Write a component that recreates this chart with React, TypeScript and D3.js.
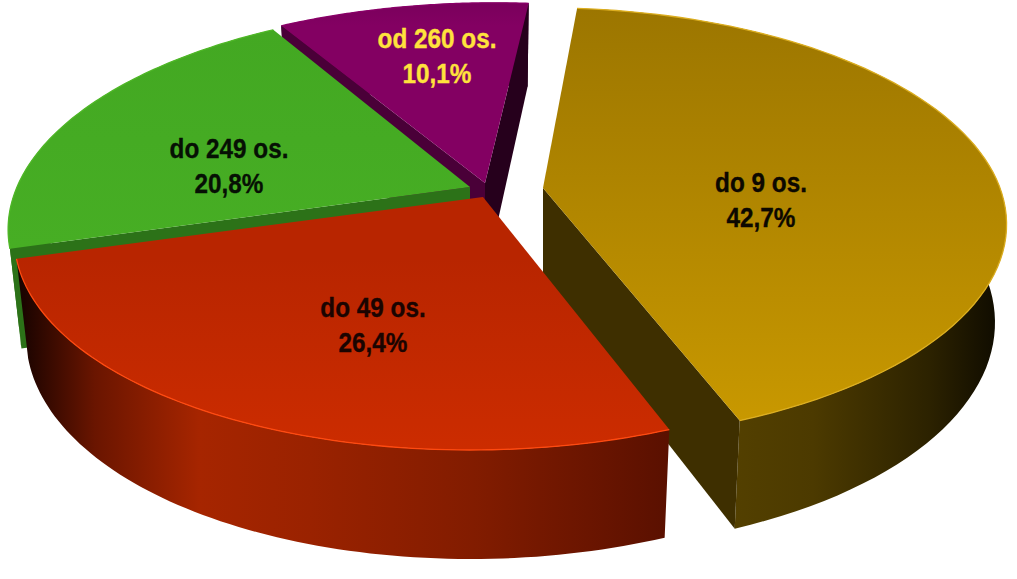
import * as d3 from 'd3';

const categories = ['do 9 os.', 'do 49 os.', 'do 249 os.', 'od 260 os.'];
const values = [42.7, 26.4, 20.8, 10.1];
const percentLabels = ['42,7%', '26,4%', '20,8%', '10,1%'];

const width = 1017;
const height = 579;

// where the tip of each exploded slice sits
const apexX = [543, 483, 470, 485];
const apexY = [188, 197, 187, 183];
// each slice sits at its own spot under the perspective, so it gets its own width and lean
const sliceRadiusX = [457, 460, 453, 465];
const sliceShear = [0, -0.05, -0.06, -0.05];
const labelX = [761, 373, 229, 437];
const labelY = [192, 317, 158, 48];
const labelColor = ['#0c0800', '#1a0400', '#061004', '#ffe23c'];

const topColors = [
  ['#9c7600', '#c89800'],
  ['#b82500', '#cc2c00'],
  ['#43a822', '#47ae24'],
  ['#7a005c', '#830062'],
];
const cutColors = ['#3e2f00', '#5a1000', '#2c7218', '#4a0038'];
const endCutColors = ['#3e2f00', '#5a1000', '#2c7218', '#26001c'];
const rimColors = ['#dcae20', '#ff4a10', '#50b828', '#8a0068'];
const outerStops: [number, string][][] = [
  [[0, '#614b00'], [0.55, '#4c3a00'], [0.82, '#2c2200'], [1, '#0c0900']],
  [[0, '#140200'], [0.12, '#6a1500'], [0.28, '#a62500'], [0.45, '#9a2200'], [0.7, '#821c00'], [1, '#5a1000']],
  [[0, '#2c7218'], [1, '#2c7218']],
  [[0, '#26001c'], [1, '#26001c']],
];

// perspective of the disc
const radiusY = 210.5;
const persp = 0.168;
const baseDepth = 96;
const depthSlope = 13;
const bottomShrink = 0.975;

const pie = d3
  .pie<number>()
  .sort(null)
  .startAngle((5 * Math.PI) / 180)
  .endAngle((365 * Math.PI) / 180);

const arcs = pie(values);

type Pt = [number, number];

function project(i: number, angle: number, r: number, bottom: boolean): Pt {
  const th = angle - Math.PI / 2;
  const u = Math.cos(th) * r;
  const v = Math.sin(th) * r;
  const s = 1 / (1 - persp * v);
  const y = radiusY * v * s;
  const x = sliceRadiusX[i] * u * s + sliceShear[i] * y;
  if (!bottom) return [apexX[i] + x, apexY[i] + y];
  return [apexX[i] + x * bottomShrink, apexY[i] + y + baseDepth + depthSlope * v];
}

const line = d3.line<Pt>();

function arcPoints(i: number, bottom: boolean): Pt[] {
  const a = arcs[i];
  const scale = d3.scaleLinear().domain([0, 80]).range([a.startAngle, a.endAngle]);
  return d3.range(81).map(k => project(i, scale(k), 1, bottom));
}

function topPath(i: number) {
  return line([project(i, 0, 0, false), ...arcPoints(i, false)]) + 'Z';
}

function outerPath(i: number) {
  return line([...arcPoints(i, false), ...arcPoints(i, true).reverse()]) + 'Z';
}

function cutPath(i: number, angle: number) {
  return (
    line([
      project(i, 0, 0, false),
      project(i, angle, 1, false),
      project(i, angle, 1, true),
      project(i, 0, 0, true),
    ]) + 'Z'
  );
}

// a cut face is only seen when it drops away from the slice, not under it
function startCutVisible(i: number) {
  return project(i, arcs[i].startAngle, 1, false)[0] < apexX[i];
}
function endCutVisible(i: number) {
  return project(i, arcs[i].endAngle, 1, false)[0] > apexX[i];
}

export default function App() {
  const font = { fontFamily: '"Liberation Sans", Arial, sans-serif', fontWeight: 700, fontSize: 27 };
  // purple at the back first, red laps over the gold cut face
  const order = [3, 2, 0, 1];
  return (
    <svg
      width={width}
      height={height}
      viewBox={`0 0 ${width} ${height}`}
      style={{ position: 'absolute', left: 0, top: 0, background: '#fff' }}
    >
      <defs>
        {arcs.map((a, i) => {
          const ys = arcPoints(i, false).map(p => p[1]);
          const xs = [...arcPoints(i, false), ...arcPoints(i, true)].map(p => p[0]);
          return (
            <g key={i}>
              <linearGradient
                id={`top-${i}`}
                gradientUnits="userSpaceOnUse"
                x1={0}
                x2={0}
                y1={d3.min(ys)}
                y2={d3.max(ys)}
              >
                <stop offset="0%" stopColor={topColors[i][0]} />
                <stop offset="100%" stopColor={topColors[i][1]} />
              </linearGradient>
              <linearGradient
                id={`outer-${i}`}
                gradientUnits="userSpaceOnUse"
                x1={d3.min(xs)}
                x2={d3.max(xs)}
                y1={0}
                y2={0}
              >
                {outerStops[i].map(([o, c]) => (
                  <stop key={o} offset={o} stopColor={c} />
                ))}
              </linearGradient>
            </g>
          );
        })}
      </defs>
      {order.map(i => (
        <g key={i}>
          <path d={outerPath(i)} fill={`url(#outer-${i})`} />
          {endCutVisible(i) && <path d={cutPath(i, arcs[i].endAngle)} fill={endCutColors[i]} />}
          {startCutVisible(i) && <path d={cutPath(i, arcs[i].startAngle)} fill={cutColors[i]} />}
          <path d={topPath(i)} fill={`url(#top-${i})`} />
          <path d={line(arcPoints(i, false)) ?? ''} fill="none" stroke={rimColors[i]} strokeWidth={1.3} />
        </g>
      ))}
      {order.map(i => (
        <g key={i} fill={labelColor[i]} stroke={labelColor[i]} strokeWidth={0.35} style={font} textAnchor="middle">
          <text transform={`translate(${labelX[i]},${labelY[i]}) scale(0.9,1)`}>{categories[i]}</text>
          <text transform={`translate(${labelX[i]},${labelY[i] + 35}) scale(0.9,1)`}>{percentLabels[i]}</text>
        </g>
      ))}
    </svg>
  );
}
